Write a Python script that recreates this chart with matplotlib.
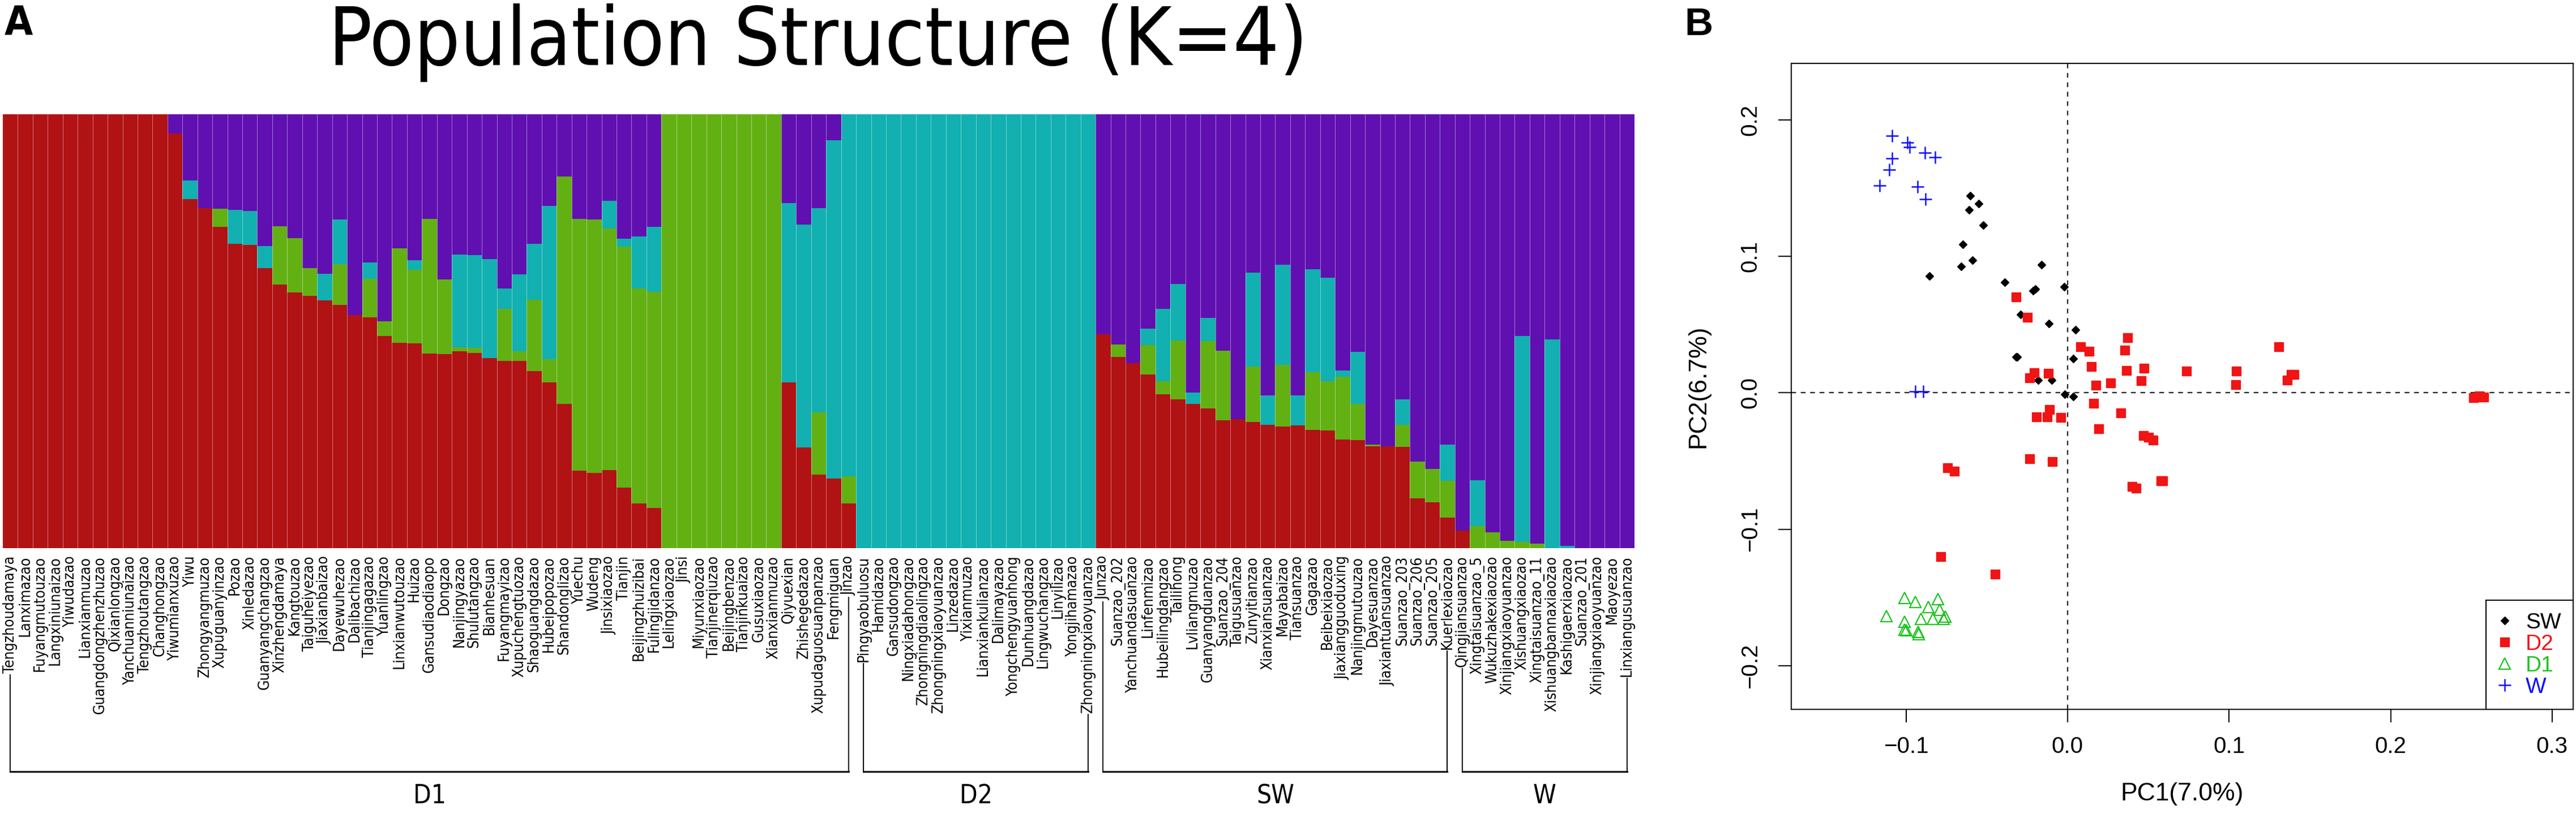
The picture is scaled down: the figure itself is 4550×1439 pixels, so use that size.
import os
import numpy as np
import matplotlib
matplotlib.use("Agg")
import matplotlib.pyplot as plt
import matplotlib.transforms as mtransforms
from matplotlib import font_manager as fm

# sample names (left to right in the structure plot)
names = [
    "Tengzhoudamaya", "Lanximazao", "Fuyangmutouzao", "Langxiniunaizao", "Yiwudazao",
    "Lianxianmuzao", "Guangdongzhenzhuzao", "Qixianlongzao", "Yanchuanniunaizao", "Tengzhoutangzao",
    "Changhongzao", "Yiwumianxuzao", "Yiwu", "Zhongyangmuzao", "Xupuguanyinzao",
    "Pozao", "Xinledazao", "Guanyangchangzao", "Xinzhengdamaya", "Kangtouzao",
    "Taiguheiyezao", "Jiaxianbaizao", "Dayewuhezao", "Dalibachizao", "Tianjingagazao",
    "Yuanlingzao", "Linxianwutouzao", "Huizao", "Gansudiaodiaopo", "Dongzao",
    "Nanjingyazao", "Shulutangzao", "Bianhesuan", "Fuyangmayizao", "Xupuchengtuozao",
    "Shaoguangdazao", "Hubeipopozao", "Shandonglizao", "Yuechu", "Wudeng",
    "Jinsixiaozao", "Tianjin", "Beijingzhuizibai", "Fulingjidanzao", "Lelingxiaozao",
    "Jinsi", "Miyunxiaozao", "Tianjinerqiuzao", "Beijingbenzao", "Tianjinkuaizao",
    "Gusuxiaozao", "Xianxianmuzao", "Qiyuexian", "Zhishegedazao", "Xupudaguosuanpanzao",
    "Fengmiguan", "Jinzao",
    "Pingyaobuluosu", "Hamidazao", "Gansudongzao", "Ningxiadahongzao", "Zhongningdiaolingzao",
    "Zhongningxiaoyuanzao", "Linzedazao", "Yixianmuzao", "Lianxiankulianzao", "Dalimayazao",
    "Yongchengyuanhong", "Dunhuangdazao", "Lingwuchangzao", "Linyilizao", "Yongjihamazao",
    "Zhongningxiaoyuanzao",
    "Junzao", "Suanzao_202", "Yanchuandasuanzao", "Linfenmizao", "Hubeilingdangzao",
    "Tailihong", "Lvliangmuzao", "Guanyangduanzao", "Suanzao_204", "Taigusuanzao",
    "Zunyitianzao", "Xianxiansuanzao", "Mayabaizao", "Tiansuanzao", "Gagazao",
    "Beibeixiaozao", "Jiaxiangguoduxing", "Nanjingmutouzao", "Dayesuanzao", "Jiaxiantuansuanzao",
    "Suanzao_203", "Suanzao_206", "Suanzao_205", "Kuerlexiaozao",
    "Qingjiansuanzao", "Xingtaisuanzao_5", "Wukuzhakexiaozao", "Xinjiangxiaoyuanzao", "Xishuangxiaozao",
    "Xingtaisuanzao_11", "Xishuangbannaxiaozao", "Kashigaerxiaozao", "Suanzao_201", "Xinjiangxiaoyuanzao",
    "Maoyezao", "Linxiangusuanzao",
]

# ancestry proportions for K=4 (stacked bottom -> top: red, green, cyan, purple)
red = [1, 1, 1, 1, 1, 1, 1, 1, 1, 1,
       1, .956, .805, .783, .741, .702, .699, .646, .608, .589,
       .581, .571, .561, .537, .532, .489, .473, .472, .449, .447,
       .454, .450, .438, .432, .431, .408, .382, .332, .178, .174,
       .180, .140, .103, .093, 0, 0, 0, 0, 0, 0,
       0, 0, .382, .232, .169, .160, .103,
       0, 0, 0, 0, 0, 0, 0, 0, 0, 0, 0, 0, 0, 0, 0, 0,
       .493, .441, .426, .400, .355, .343, .333, .322, .295, .297,
       .291, .284, .280, .283, .273, .271, .250, .249, .235, .235,
       .234, .115, .106, .070,
       .041, 0, 0, 0, 0, 0, 0, 0, 0, 0, 0, 0]
green = [0, 0, 0, 0, 0, 0, 0, 0, 0, 0,
         0, 0, 0, 0, .041, 0, 0, 0, .134, .125,
         .064, 0, .094, 0, .089, .034, .218, .170, .310, .172,
         .009, .011, 0, .119, .023, .165, .053, .525, .581, .584,
         .556, .555, .495, .498, 1, 1, 1, 1, 1, 1,
         1, 1, 0, 0, .144, 0, .063,
         0, 0, 0, 0, 0, 0, 0, 0, 0, 0, 0, 0, 0, 0, 0, 0,
         0, .028, 0, .068, .029, .136, 0, .155, .160, 0,
         .128, 0, .142, 0, .132, .114, .145, .083, .004, 0,
         .050, .085, .077, .085,
         0, .051, .036, .017, .014, .010, 0, 0, 0, 0, 0, 0]
cyan = [0, 0, 0, 0, 0, 0, 0, 0, 0, 0,
        0, 0, .043, 0, 0, .078, .078, .050, 0, 0,
        0, .061, .102, 0, .037, 0, 0, .022, 0, 0,
        .214, .215, .228, .048, .177, .129, .354, 0, 0, 0,
        .065, .018, .120, .150, 0, 0, 0, 0, 0, 0,
        0, 0, .413, .514, .470, .780, .834,
        1, 1, 1, 1, 1, 1, 1, 1, 1, 1, 1, 1, 1, 1, 1, 1,
        0, 0, 0, .038, .168, .130, .026, .053, 0, 0,
        .216, .068, .231, .069, .238, .238, .014, .120, 0, 0,
        .059, 0, 0, .083,
        0, .105, 0, 0, .475, 0, .481, .005, 0, 0, 0, 0]
purple = [1 - r - g - c for r, g, c in zip(red, green, cyan)]

groups = [("D1", 0, 56), ("D2", 57, 72), ("SW", 73, 96), ("W", 97, 108)]

# PCA coordinates
sw_pc1 = [-0.0604, -0.0608, -0.0549, -0.0521, -0.0649, -0.0587, -0.0660, -0.0854, -0.0160, -0.0389,
          -0.0201, -0.0215, -0.0021, -0.0292, -0.0115, 0.0049, -0.0319, -0.0313, 0.0035, -0.0181,
          -0.0097, -0.0017, 0.0035]
sw_pc2 = [0.1445, 0.1342, 0.1384, 0.1228, 0.1087, 0.0970, 0.0924, 0.0856, 0.0939, 0.0810,
          0.0760, 0.0749, 0.0776, 0.0574, 0.0506, 0.0460, 0.0262, 0.0262, 0.0251, 0.0091,
          0.0091, -0.0011, -0.0027]
d2_pc1 = [-0.0319, -0.0247, 0.0080, 0.0135, 0.0372, 0.0354, 0.1306, 0.0149, -0.0236, -0.0208,
          -0.0118, 0.0365, 0.0472, 0.0174, 0.0267, 0.0455, 0.0736, 0.1045, 0.1042, 0.1361,
          0.1385, 0.1403, 0.2514, 0.2549, 0.2576, 0.2535, 0.0160, -0.0191, -0.0125, -0.0111,
          -0.0042, 0.0330, 0.0194, 0.0469, 0.0503, 0.0528, -0.0236, -0.0094, -0.0743, -0.0701,
          0.0399, 0.0424, 0.0580, 0.0590, -0.0785, -0.0448]
d2_pc2 = [0.0703, 0.0551, 0.0338, 0.0304, 0.0403, 0.0312, 0.0338, 0.0194, 0.0110, 0.0148,
          0.0141, 0.0163, 0.0179, 0.0057, 0.0072, 0.0087, 0.0160, 0.0160, 0.0061, 0.0091,
          0.0133, 0.0133, -0.0034, -0.0023, -0.0030, -0.0030, -0.0076, -0.0175, -0.0175, -0.0125,
          -0.0179, -0.0148, -0.0262, -0.0312, -0.0327, -0.0346, -0.0483, -0.0506, -0.0548, -0.0574,
          -0.0688, -0.0700, -0.0646, -0.0646, -0.1202, -0.1331]
d1_pc1 = [-0.1010, -0.0941, -0.0802, -0.1122, -0.1010, -0.0861, -0.0792, -0.0906, -0.0833, -0.0767,
          -0.1010, -0.0997, -0.0924, -0.0920, -0.0757]
d1_pc2 = [-0.1502, -0.1532, -0.1513, -0.1635, -0.1677, -0.1570, -0.1589, -0.1658, -0.1658, -0.1658,
          -0.1734, -0.1741, -0.1753, -0.1768, -0.1639]
w_pc1 = [-0.1087, -0.0990, -0.0979, -0.0882, -0.0819, -0.1087, -0.1104, -0.1163, -0.0927, -0.0878,
         -0.0941, -0.0892]
w_pc2 = [0.1882, 0.1833, 0.1802, 0.1760, 0.1726, 0.1719, 0.1635, 0.1517, 0.1510, 0.1418,
         0.0011, 0.0011]


def find_font(key, exclude):
    for f in fm.fontManager.ttflist:
        fn = os.path.basename(f.fname)
        if fn.startswith(key) and not any(e in fn for e in exclude):
            return f.fname
    return None


# panel A was drawn with a narrow DejaVu face
reg_file = find_font("DejaVuSansCondensed", ["Bold", "Oblique"])
bold_file = find_font("DejaVuSansCondensed-Bold", ["Oblique"])


def fpA(size, bold=False):
    path = bold_file if bold else reg_file
    if path:
        return fm.FontProperties(fname=path, size=size)
    return fm.FontProperties(family="DejaVu Sans", size=size * 0.91,
                             weight="bold" if bold else "normal")


W, H = 4550, 1439
fig = plt.figure(figsize=(W / 100, H / 100), dpi=100)

# ---- panel A: structure bar plot ----
ax = fig.add_axes([5 / W, 1 - 969 / H, 2882 / W, 767 / H])
x = np.arange(len(names))
cols = ["#b11214", "#63b013", "#12b0b0", "#6010b0"]
bottom = np.zeros(len(names))
for vals, col in zip([red, green, cyan, purple], cols):
    vals = np.array(vals)
    ax.bar(x, vals, width=1.0, bottom=bottom, color=col, linewidth=0)
    bottom += vals
ax.vlines(np.arange(0.5, len(names) - 0.5), 0, 1, colors="white", lw=0.7, alpha=0.45)
ax.set_xlim(-0.5, len(names) - 0.5)
ax.set_ylim(0, 1)
ax.set_yticks([])
ax.set_xticks(x)
ax.set_xticklabels(names, rotation=90, fontproperties=fpA(19))
ax.tick_params(axis="x", length=0, pad=10)
for s in ax.spines.values():
    s.set_visible(False)

fig.text(580 / W, 1 - 115 / H, "Population Structure (K=4)", fontproperties=fpA(103),
         ha="left", va="baseline")
fig.text(8 / W, 1 - 62 / H, "A", fontproperties=fpA(52, bold=True), va="baseline")

# group brackets under the labels
fig.canvas.draw()
renderer = fig.canvas.get_renderer()
tlabels = ax.get_xticklabels()
trans = mtransforms.blended_transform_factory(ax.transData, ax.transAxes)
br_y = (969 - 1364) / 767
lab_y = (969 - 1408) / 767
for name, i0, i1 in groups:
    ax.plot([i0, i1], [br_y, br_y], color="black", lw=2.2, transform=trans, clip_on=False)
    for idx in (i0, i1):
        bb = tlabels[idx].get_window_extent(renderer)
        ytop = ax.transAxes.inverted().transform((0, bb.y0 - 3))[1]
        ax.plot([idx, idx], [ytop, br_y], color="black", lw=1.4, transform=trans, clip_on=False)
    ax.text((i0 + i1) / 2, lab_y, name, fontproperties=fpA(33), ha="center", va="center",
            transform=trans)

# ---- panel B: PCA ----
pfont = "Liberation Sans"
bx = fig.add_axes([3164 / W, 1 - 1254 / H, 1381 / W, 1142 / H])
bx.axvline(0, color="black", ls=(0, (4, 4)), lw=1.5)
bx.axhline(0, color="black", ls=(0, (4, 4)), lw=1.5)
h1, = bx.plot(sw_pc1, sw_pc2, ls="none", marker="D", ms=7, color="black", label="SW")
h2, = bx.plot(d2_pc1, d2_pc2, ls="none", marker="s", ms=11.5, color="#f01414", label="D2")
h3, = bx.plot(d1_pc1, d1_pc2, ls="none", marker="^", ms=15, mfc="none", mec="#1ec21e",
              mew=1.6, label="D1")
h4, = bx.plot(w_pc1, w_pc2, ls="none", marker="+", ms=16, mec="#1010ff", mew=1.8, label="W")
bx.set_xlim(-0.171, 0.313)
bx.set_ylim(-0.232, 0.2414)
bx.set_xticks([-0.1, 0.0, 0.1, 0.2, 0.3])
bx.set_xticklabels(["\u22120.1", "0.0", "0.1", "0.2", "0.3"], fontsize=29, family=pfont)
bx.set_yticks([-0.2, -0.1, 0.0, 0.1, 0.2])
bx.set_yticklabels(["\u22120.2", "\u22120.1", "0.0", "0.1", "0.2"], fontsize=29, family=pfont,
                   rotation=90, va="center")
bx.tick_params(length=16.5, width=1.5)
bx.tick_params(axis="x", pad=17)
bx.tick_params(axis="y", pad=22)
for s in bx.spines.values():
    s.set_linewidth(1.5)
bx.set_xlabel("PC1(7.0%)", fontsize=32, family=pfont, va="center")
bx.xaxis.set_label_coords(0.5, (1254 - 1404) / 1142)
bx.set_ylabel("PC2(6.7%)", fontsize=32, family=pfont, va="center")
bx.yaxis.set_label_coords((3000 - 3164) / 1381, 0.5)
leg = bx.legend(handles=[h1, h2, h3, h4], loc="lower right", borderaxespad=0,
                fancybox=False, edgecolor="black", framealpha=1,
                prop={"family": pfont, "size": 28}, labelspacing=0.05,
                handletextpad=0.65, handlelength=0.6, borderpad=0.55)
leg.get_frame().set_linewidth(1.5)
for t, c in zip(leg.get_texts(), ["black", "#f01414", "#1ec21e", "#1010ff"]):
    t.set_color(c)
fig.text(2975 / W, 1 - 62 / H, "B", fontsize=50, weight="bold", va="baseline", family=pfont)

fig.savefig("out.png", dpi=100)
